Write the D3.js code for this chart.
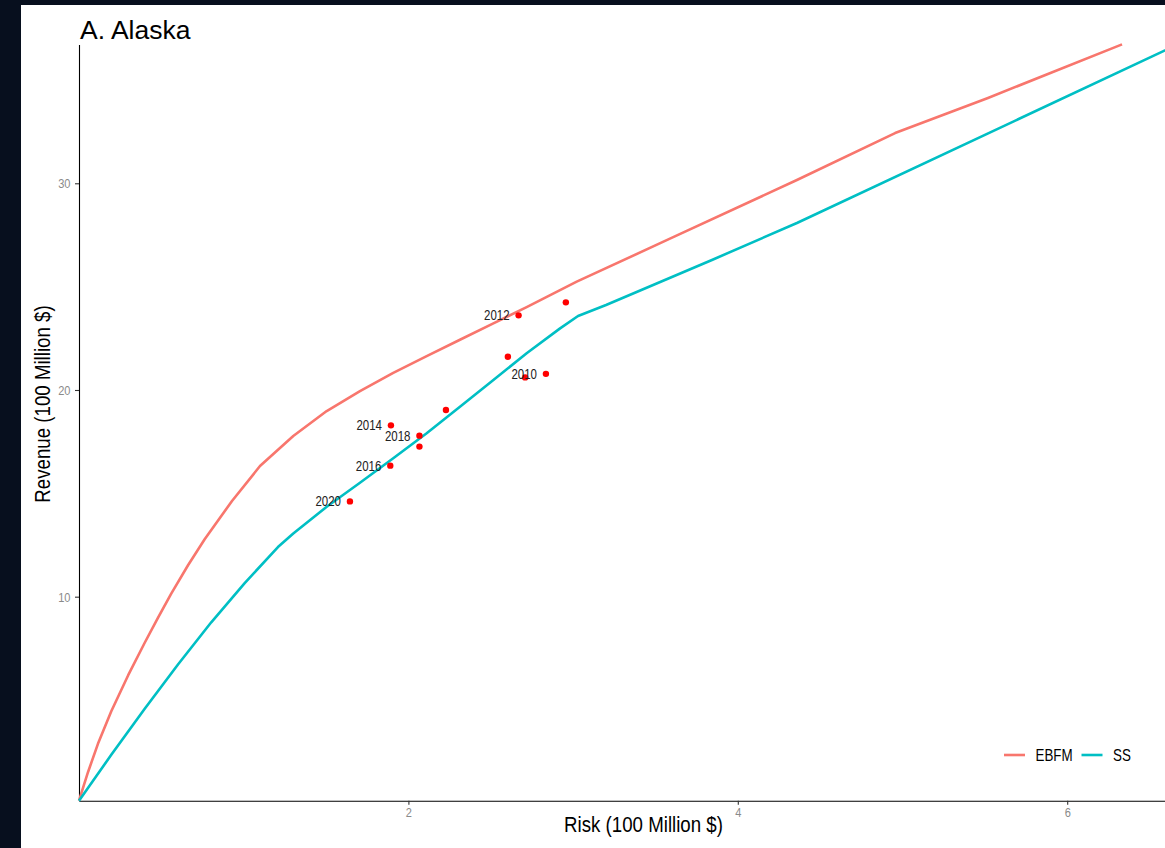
<!DOCTYPE html>
<html><head><meta charset="utf-8">
<script src="https://cdn.jsdelivr.net/npm/d3@7"></script>
<style>body{margin:0;background:#fff;overflow:hidden} svg{display:block}</style>
</head><body><svg id="c" width="1165" height="848"></svg>
<script>
// ---- data ----
const seriesNames = ["EBFM", "SS"];
const seriesColors = ["#F8766D", "#00BFC4"];
const ebfmRisk    = [0, 0.055, 0.115, 0.196, 0.298, 0.399, 0.480, 0.560, 0.662, 0.763, 0.929, 1.099, 1.301, 1.504, 1.706, 1.908, 2.111, 2.313, 2.516, 2.718, 3.022, 3.588, 4.359, 4.955, 5.519, 6.333];
const ebfmRevenue = [0, 1.52, 2.88, 4.46, 6.19, 7.77, 8.99, 10.15, 11.52, 12.78, 14.63, 16.32, 17.77, 18.98, 19.95, 20.83, 21.64, 22.43, 23.22, 24.01, 25.24, 27.32, 30.16, 32.43, 34.13, 36.72];
const ssRisk    = [0, 0.196, 0.399, 0.601, 0.803, 1.006, 1.208, 1.301, 1.504, 1.706, 1.908, 2.111, 2.313, 2.516, 2.718, 2.921, 3.030, 3.200, 3.843, 4.359, 6.661];
const ssRevenue = [0, 2.35, 4.58, 6.72, 8.76, 10.66, 12.40, 13.06, 14.35, 15.51, 16.70, 17.91, 19.19, 20.48, 21.78, 22.98, 23.58, 24.11, 26.29, 28.08, 36.68];
const pointYears   = [2010, 2011, 2012, 2013, 2014, 2015, 2016, 2017, 2018, 2019, 2020];
const pointRisk    = [2.835, 2.709, 2.669, 2.956, 1.894, 2.228, 1.890, 2.067, 2.067, 2.604, 1.645];
const pointRevenue = [20.78, 20.61, 23.61, 24.24, 18.29, 19.03, 16.34, 17.26, 17.79, 21.61, 14.61];
const labeledYears = [2010, 2012, 2014, 2016, 2018, 2020];
const xTicks = [2, 4, 6];
const yTicks = [10, 20, 30];
const titleText = "A. Alaska";
const xTitle = "Risk (100 Million $)";
const yTitle = "Revenue (100 Million $)";

// ---- layout ----
const W = 1165, H = 848;
const FONT = "'Liberation Sans',Arial,sans-serif";
const SQ = 0.82; // horizontal squeeze to imitate a narrow face
const svg = d3.select("#c");
svg.append("rect").attr("width", W).attr("height", H).attr("fill", "#070f1e");
svg.append("rect").attr("x", 21).attr("y", 5).attr("width", W - 21).attr("height", H - 5).attr("fill", "#ffffff");

const x = d3.scaleLinear().domain([0, 6.66]).range([79, 79 + 6.66 * 164.7]);
const y = d3.scaleLinear().domain([0.13, 36.72]).range([800.7, 800.7 - (36.72 - 0.13) * 20.67]).clamp(true);

svg.append("defs").append("clipPath").attr("id", "pc")
  .append("rect").attr("x", x.range()[0] - 2).attr("y", y.range()[1] - 3)
  .attr("width", x.range()[1] - x.range()[0] + 4).attr("height", y.range()[0] - y.range()[1] + 5);

function narrowText(parent, px, py, txt, size, fill, anchor, rotate) {
  const g = parent.append("g").attr("transform", `translate(${px},${py})${rotate ? ` rotate(${rotate})` : ""} scale(${SQ},1)`);
  return g.append("text").attr("text-anchor", anchor || "start")
    .style("font-family", FONT).style("font-size", size + "px").attr("fill", fill).text(txt);
}

// axes
const xAxis = d3.axisBottom(x).tickValues(xTicks).tickSize(4).tickSizeOuter(0).tickPadding(2.5).tickFormat(d3.format("d"));
const yAxis = d3.axisLeft(y).tickValues(yTicks).tickSize(4).tickSizeOuter(0).tickPadding(4.5).tickFormat(d3.format("d"));
const gx = svg.append("g").attr("transform", `translate(0,${y.range()[0]})`).call(xAxis);
const gy = svg.append("g").attr("transform", `translate(${x.range()[0]},0)`).call(yAxis);
[gx, gy].forEach(g => {
  g.select(".domain").attr("stroke", "#000").attr("stroke-width", 1.1);
  g.selectAll(".tick line").attr("stroke", "#333").attr("stroke-width", 1.1);
  g.selectAll(".tick text").attr("fill", "#8a8a8a").style("font-family", FONT).style("font-size", "13.5px")
    .attr("transform", `scale(${SQ},1)`);
});
gy.selectAll(".tick text").attr("x", -8.5 / SQ);

// lines
const lineGen = d3.line().x(d => x(d[0])).y(d => y(d[1]));
const seriesData = [
  d3.zip(ebfmRisk, ebfmRevenue),
  d3.zip(ssRisk, ssRevenue)
];
const plot = svg.append("g").attr("clip-path", "url(#pc)");
seriesData.forEach((s, i) => {
  plot.append("path").datum(s).attr("d", lineGen)
    .attr("fill", "none").attr("stroke", seriesColors[i]).attr("stroke-width", 2.6)
    .attr("stroke-linejoin", "round").attr("stroke-linecap", "butt");
});

// points
const pts = pointYears.map((yr, i) => ({year: yr, risk: pointRisk[i], rev: pointRevenue[i]}));
plot.selectAll("circle.pt").data(pts).join("circle").attr("class", "pt")
  .attr("cx", d => x(d.risk)).attr("cy", d => y(d.rev)).attr("r", 3.2).attr("fill", "#ff0000");
pts.filter(d => labeledYears.includes(d.year)).forEach(d => {
  narrowText(svg, x(d.risk) - 9, y(d.rev), String(d.year), 14, "#222", "end").attr("dy", "0.35em");
});

// titles
svg.append("text").attr("x", 80).attr("y", 39).style("font-family", FONT)
  .style("font-size", "26.5px").attr("fill", "#000").text(titleText);
narrowText(svg, 643.5, 832, xTitle, 22.8, "#000", "middle");
narrowText(svg, 50, 404, yTitle, 22.8, "#000", "middle", -90);

// legend
const legX = [1004, 1081.5], legY = 755;
seriesNames.forEach((n, i) => {
  svg.append("line").attr("x1", legX[i]).attr("x2", legX[i] + 21).attr("y1", legY).attr("y2", legY)
    .attr("stroke", seriesColors[i]).attr("stroke-width", 2.6);
  narrowText(svg, legX[i] + 31.5, legY, n, 16.3, "#000", "start").attr("dy", "0.36em");
});
</script></body></html>
